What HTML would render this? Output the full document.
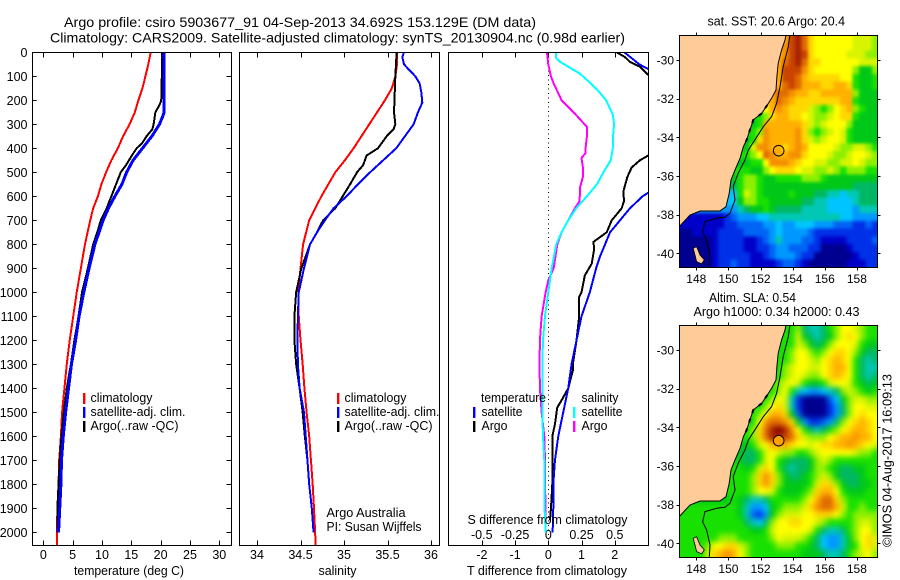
<!DOCTYPE html>
<html lang="en">
<head>
<meta charset="utf-8">
<title>Argo profile csiro 5903677_91</title>
<style>
html,body{margin:0;padding:0;background:#fff}
svg{display:block}
text{font-family:"Liberation Sans",sans-serif;fill:#000;font-size:13px}
.tick{font-size:12.5px}
.mtick{font-size:12px}
</style>
</head>
<body>
<svg id="chart" xmlns="http://www.w3.org/2000/svg" width="900" height="580" viewBox="0 0 900 580">
<defs>
<clipPath id="clip-temp"><rect x="33" y="53" width="198" height="492"/></clipPath>
<clipPath id="clip-sal"><rect x="240" y="53" width="199" height="492"/></clipPath>
<clipPath id="clip-diff"><rect x="449" y="53" width="199" height="492"/></clipPath>
<clipPath id="clip-sst"><rect x="679.5" y="35.5" width="198" height="232"/></clipPath>
<clipPath id="clip-sla"><rect x="679.5" y="325.5" width="198" height="232"/></clipPath>
<filter id="blur-sst" x="-10%" y="-10%" width="120%" height="120%" color-interpolation-filters="sRGB"><feGaussianBlur stdDeviation="1.7"/></filter>
<filter id="blur-sla" x="-10%" y="-10%" width="120%" height="120%" color-interpolation-filters="sRGB"><feGaussianBlur stdDeviation="3"/></filter>
</defs>

<text x="64" y="27" font-size="14" style="font-size:14px" textLength="472" lengthAdjust="spacingAndGlyphs">Argo profile: csiro 5903677_91 04-Sep-2013 34.692S 153.129E (DM data)</text>
<text x="50" y="42.5" style="font-size:14px" textLength="575" lengthAdjust="spacingAndGlyphs">Climatology: CARS2009. Satellite-adjusted climatology: synTS_20130904.nc (0.98d earlier)</text>

<g id="layer-maps"></g>
<g id="layer-profiles"></g>

<text x="74" y="575" textLength="110" lengthAdjust="spacingAndGlyphs">temperature (deg C)</text>
<text x="318.5" y="575" textLength="38" lengthAdjust="spacingAndGlyphs">salinity</text>
<text x="467" y="575" textLength="160" lengthAdjust="spacingAndGlyphs">T difference from climatology</text>
<text x="467.5" y="524" textLength="160" lengthAdjust="spacingAndGlyphs">S difference from climatology</text>

<g>
<rect x="83" y="393" width="2.4" height="11" fill="#ff0000"/>
<rect x="83" y="407" width="2.4" height="11" fill="#0000ff"/>
<rect x="83" y="421" width="2.4" height="11" fill="#000"/>
<text x="90.5" y="402" textLength="62" lengthAdjust="spacingAndGlyphs">climatology</text>
<text x="90.5" y="416" textLength="95" lengthAdjust="spacingAndGlyphs">satellite-adj. clim.</text>
<text x="90.5" y="430" textLength="88" lengthAdjust="spacingAndGlyphs">Argo(..raw -QC)</text>
</g>
<g>
<rect x="337" y="393" width="2.4" height="11" fill="#ff0000"/>
<rect x="337" y="407" width="2.4" height="11" fill="#0000ff"/>
<rect x="337" y="421" width="2.4" height="11" fill="#000"/>
<text x="344.5" y="402" textLength="62" lengthAdjust="spacingAndGlyphs">climatology</text>
<text x="344.5" y="416" textLength="95" lengthAdjust="spacingAndGlyphs">satellite-adj. clim.</text>
<text x="344.5" y="430" textLength="88" lengthAdjust="spacingAndGlyphs">Argo(..raw -QC)</text>
</g>
<g>
<text x="481" y="402" textLength="65" lengthAdjust="spacingAndGlyphs">temperature</text>
<rect x="473" y="407" width="2.4" height="11" fill="#0000ff"/>
<rect x="473" y="421" width="2.4" height="11" fill="#000"/>
<text x="481.5" y="416" textLength="41" lengthAdjust="spacingAndGlyphs">satellite</text>
<text x="481.5" y="430" textLength="26" lengthAdjust="spacingAndGlyphs">Argo</text>
<text x="581.5" y="402" textLength="37" lengthAdjust="spacingAndGlyphs">salinity</text>
<rect x="573" y="407" width="2.4" height="11" fill="#00ffff"/>
<rect x="573" y="421" width="2.4" height="11" fill="#ff00ff"/>
<text x="581.5" y="416" textLength="41" lengthAdjust="spacingAndGlyphs">satellite</text>
<text x="581.5" y="430" textLength="26" lengthAdjust="spacingAndGlyphs">Argo</text>
</g>

<text x="326.5" y="517" textLength="79" lengthAdjust="spacingAndGlyphs">Argo Australia</text>
<text x="326.5" y="531" textLength="95" lengthAdjust="spacingAndGlyphs">PI: Susan Wijffels</text>

<text x="707.5" y="25.5" textLength="137.5" lengthAdjust="spacingAndGlyphs">sat. SST: 20.6 Argo: 20.4</text>
<text x="709" y="302" textLength="87" lengthAdjust="spacingAndGlyphs">Altim. SLA: 0.54</text>
<text x="693.5" y="316" textLength="166" lengthAdjust="spacingAndGlyphs">Argo h1000: 0.34 h2000: 0.43</text>
<text transform="translate(891.5,547) rotate(-90)" x="0" y="0" textLength="173" lengthAdjust="spacingAndGlyphs">©IMOS 04-Aug-2017 16:09:13</text>
</svg>

<script>
// ---------- chart data ----------
const depthTicks = [0,100,200,300,400,500,600,700,800,900,1000,1100,1200,1300,1400,1500,1600,1700,1800,1900,2000];
const tempTicks = [0,5,10,15,20,25,30];
const salTicks = [34,34.5,35,35.5,36];
const salTickLabels = ["34","34.5","35","35.5","36"];
const diffTTicks = [-2,-1,0,1,2];
const diffSTicks = [-0.5,-0.25,0,0.25,0.5];
const diffSTickLabels = ["-0.5","-0.25","0","0.25","0.5"];
const lonTicks = [148,150,152,154,156,158];
const latTicks = [-30,-32,-34,-36,-38,-40];

const tempClimDepth = [0,50,100,150,200,250,300,350,400,450,500,550,600,650,700,800,900,1000,1100,1200,1300,1400,1500,1600,1700,1800,1900,2055];
const tempClim = [18.3,17.9,17.4,16.9,16.2,15.6,14.7,13.6,12.7,11.6,10.7,9.9,9.3,8.5,8.0,7.1,6.4,5.7,5.1,4.5,4.0,3.6,3.2,3.0,2.7,2.6,2.4,2.3];
const tempSatDepth = [0,250,270,300,350,400,450,500,550,600,650,700,800,900,1000,1100,1200,1300,1400,1500,1600,1700,1800,2000];
const tempSat = [20.6,20.6,20.3,19.8,18.5,16.9,15.3,14.2,13.4,12.2,11.1,10.2,8.8,7.8,6.9,6.1,5.5,4.8,4.3,3.8,3.4,3.1,3.0,2.6];
const tempArgoDepth = [0,100,200,220,250,300,320,350,380,400,430,470,500,550,600,650,700,750,800,900,1000,1100,1200,1300,1400,1500,1600,1700,1800,1900,2000];
const tempArgo = [20.3,20.2,20.1,19.8,19.1,18.8,18.6,17.6,16.8,15.9,15.1,14.1,13.2,12.4,11.6,10.8,9.8,9.2,8.5,7.6,6.6,6.0,5.3,4.7,4.0,3.5,3.1,2.8,2.6,2.4,2.4];

const salClimDepth = [0,50,100,150,200,250,300,350,400,450,500,550,600,650,700,800,900,1000,1100,1200,1300,1400,1500,1600,1700,1800,1900,2055];
const salClim = [35.61,35.61,35.59,35.55,35.47,35.38,35.29,35.20,35.11,35.01,34.90,34.82,34.74,34.67,34.60,34.53,34.50,34.475,34.48,34.50,34.525,34.545,34.57,34.60,34.62,34.64,34.655,34.675];
const salSatDepth = [0,20,50,70,100,130,170,210,250,300,350,400,450,500,550,600,650,700,750,800,900,1000,1100,1200,1300,1400,1500,1600,1700,1800,1900,2000];
const salSat = [35.69,35.67,35.69,35.74,35.82,35.87,35.89,35.90,35.85,35.80,35.70,35.60,35.45,35.30,35.16,35.03,34.88,34.78,34.69,34.61,34.54,34.48,34.47,34.465,34.47,34.49,34.54,34.56,34.58,34.60,34.63,34.65];
const salArgoDepth = [0,100,200,250,300,320,350,400,430,470,500,550,600,650,700,750,800,900,1000,1100,1200,1300,1400,1500,1600,1700,1800,1900];
const salArgo = [35.605,35.59,35.58,35.575,35.59,35.57,35.49,35.39,35.26,35.22,35.15,35.07,34.985,34.90,34.76,34.69,34.61,34.51,34.45,34.43,34.43,34.45,34.49,34.525,34.55,34.58,34.60,34.63];

const diffSArgoDepth = [0,50,100,130,170,200,250,280,310,350,400,420,440,480,520,560,620,650,700,750,800,900,950,1000,1100,1200,1300,1400,1500,1600,1700,1800,1900,2000];
const diffSArgo = [-0.01,0,0.02,0.04,0.075,0.10,0.19,0.24,0.29,0.29,0.28,0.28,0.25,0.26,0.26,0.24,0.235,0.20,0.15,0.10,0.068,0.04,0,-0.02,-0.05,-0.063,-0.066,-0.063,-0.05,-0.03,-0.025,-0.025,-0.02,-0.02];
const diffSSatDepth = [0,25,40,60,90,120,160,200,260,300,350,400,450,490,550,600,650,700,750,800,900,1000,1100,1200,1300,1400,1500,1600,1700,1800,1900,2000];
const diffSSat = [0.058,0.06,0.09,0.15,0.24,0.30,0.375,0.435,0.485,0.495,0.487,0.485,0.47,0.425,0.365,0.29,0.21,0.15,0.10,0.06,0.025,0,-0.025,-0.04,-0.045,-0.045,-0.045,-0.04,-0.03,-0.03,-0.028,-0.02];
// null breaks the line where the value leaves the axis range
const diffTSatDepth = [0,30,50,70,300,585,600,650,700,750,800,850,900,1000,1100,1200,1300,1400,1500,1600,1700,1800,1900,2000];
const diffTSat = [2.29,2.56,2.74,3.01,null,3.01,2.84,2.46,2.16,1.86,1.71,1.56,1.44,1.25,1.0,0.85,0.70,0.60,0.45,0.30,0.20,0.15,0.15,0.13];
const diffTArgoDepth = [0,20,40,60,95,300,430,450,480,520,580,620,650,700,750,790,820,880,930,1000,1020,1100,1200,1290,1320,1400,1450,1480,1550,1600,1700,1800,1900,1950];
const diffTArgo = [2.06,2.31,2.46,2.76,3.01,null,3.01,2.76,2.51,2.38,2.26,2.28,2.21,1.91,1.76,1.36,1.38,1.31,1.10,1.0,0.93,0.93,0.85,0.75,0.75,0.60,0.40,0.27,0.20,0.12,0.12,0.12,0.08,0.05];

// ---------- map data: one letter per 0.4 degree cell, "." is land ----------
const sstRows = [
"................orsqnmmmmmmlllk",
"................prsqnmmmmmmlllk",
"...............oprsrnmmmmmlllkk",
"...............oqrsqnnmmmmmmlll",
"...............orrrpnmmmmmmkiik",
"...............orrqonnnnnmmjiij",
"...............oqrqooonnoonjiij",
"..............oqqpoonnoooookiii",
"..............oqponnnnnnnoojiii",
".............moponnnlkjkmnokjii",
"............jknoonnmlkklmnnjiii",
"...........ijoooooonlklmmmkiiii",
"...........jkpoooopnkjklmljiiii",
"..........ijnpoooopnlklmmljiiii",
"..........ilppoonopommmmlkkllkj",
".........jjkmqpooppnmmmlkklmmlk",
".........iijjmppponmmllkkllmlkk",
".........jjiikmnnnmllkklkjkkkjj",
"........ijkkjiijjjjkkkjiiiiiiii",
"........hjkkjiiiiiiiiiiiiiihhhh",
"........fjlkjiiiijiiihhggfgghhh",
"........fikkjjiiiiihhggffffghhh",
".......eeghiijihhhhggggffffeggg",
"..bbbbbcdeeeffgggggggggggffeeee",
"bbbbbbbccddddeefeefffeeedddccdc",
"aabbbbccccddddefeeeedcccccccccc",
"aaaaabccccbbcdegeeeddcbbbbccccd",
"aaaaabccccbbccdeedddccaaaabcccc",
"aaaaabcccccbbcdeeedccaaaaaabccc",
"aaaaabccdccbbbbcddcbaaaaaabbbcc"
];
const slaRows = [
"................jjkhgghjkmmlkjj",
"................jjlihghikmnmkjj",
"...............jjjlkihikmmmljii",
"...............jjkmmkjkmnnmkihh",
"...............jjkmmlkmnonmjhgh",
"...............jklmmllmnoomjhgg",
"...............jklmlkkmnonmjhgh",
"..............jklmljiijlmmljihi",
".............jjkmjgfeefghklkjij",
"............jjkmlgcaaaadfikllkk",
"...........jjkmnlgcaaaacehkmmll",
"...........jkmoonidaaaacehkmnmm",
"..........ijmpqqpnieccdehkmnonm",
"..........jknqstspmjhghjkmnoonm",
".........jjknqssrqnlkkkmnoopoom",
".........iijlmooonmmlmnnooponml",
".........ihhjlmlkkjjklmmmmmlkkj",
"........jihhjlmjihhhiklkjjjjjjj",
"........jjijlnmjhghhikkjihhiijj",
"........jjjknpnkihhijklkihhhijj",
"........jjjknpnkiiiijlnnkihhiij",
".......jjjjkmmljiiijknoomjiiijj",
".......ijihgghjjjjjkmoqqnkjjjjj",
"..jjjjjjjigeefijkkklnpqqoljjkjj",
".jjjjjjjjigdceiklllmmnnnmkjkkkk",
"jjjjjjjjjjhgfhkmmnnmmlkjjjjkllk",
"jjjjjjjjjjjiijlmmmmmljhgghjkmmk",
"jjjjjjkkkjjjjjkmlllkjhfeegikmnl",
"jjjjkmmnnlkjjjjkkkjjihfeegijmnl",
"jjjjlnopomkjjjjjjjjiiihgghjklmk"
];
const paletteKeys = "abcdefghijklmnopqrst";
const paletteColors = ["#000090","#0000c8","#0030e8","#0064f4","#0098ff","#00c4ff","#00c8b4","#00b864","#00c818","#18e000","#8cf000","#d8f400","#ffff00","#ffd800","#ffb000","#f49000","#e06c00","#c84400","#a82400","#800000"];

const coastLon = [153.58,153.52,153.31,153.10,153.02,152.96,152.69,152.42,152.07,151.55,151.34,151.13,150.93,150.72,150.41,150.16,150.05,149.85,149.47,148.23,147.61,146.94];
const coastLat = [-28.72,-28.97,-29.48,-30.17,-30.86,-31.55,-31.98,-32.33,-32.76,-33.10,-33.62,-34.14,-34.48,-35.09,-35.69,-36.21,-36.90,-37.59,-37.81,-37.81,-38.02,-38.62];
const isobathLon = [153.83,153.73,153.41,153.21,153.00,152.69,152.17,151.71,151.24,151.03,150.61,150.30,150.41,150.10,149.78,149.27,148.54,148.39,148.64,148.85,148.81];
const isobathLat = [-28.72,-29.31,-30.34,-31.38,-32.24,-32.93,-33.45,-34.05,-34.66,-35.17,-35.86,-36.55,-37.24,-37.93,-38.14,-38.19,-38.36,-38.88,-39.31,-40.09,-40.71];
const islandLon = [147.81,148.02,148.23,148.50,148.33,148.02,147.92];
const islandLat = [-39.74,-39.66,-40.09,-40.34,-40.55,-40.43,-40.09];
const argoLon = 153.129;
const argoLat = -34.692;

// ---------- helpers ----------
const NS = "http://www.w3.org/2000/svg";
const LAND = "#ffcc99";
function mk(tag, attrs, parent){
  const e = document.createElementNS(NS, tag);
  for(const k in attrs) e.setAttribute(k, attrs[k]);
  parent.appendChild(e);
  return e;
}
function hLine(parent,x1,y1,x2,y2,sw){
  return mk("line",{x1:x1,y1:y1,x2:x2,y2:y2,stroke:"#000","stroke-width":sw||1,"shape-rendering":"crispEdges"},parent);
}
const yDepth = d => 52.3 + 0.24*d;
const xTemp = v => 43.3 + 5.867*v;
const xSal = v => 257 + 87*(v-34);
const xDiffT = v => 548.3 + 33.2*v;
const xDiffS = v => 548.3 + 133*v;
const PANEL_TOP = 52.5, PANEL_BOTTOM = 545.5;

function panelFrame(name,left,right){
  const g = mk("g",{},document.getElementById("layer-profiles"));
  
  
  const r = mk("rect",{x:left,y:PANEL_TOP,width:right-left,height:PANEL_BOTTOM-PANEL_TOP,fill:"none",stroke:"#000","stroke-width":1,"shape-rendering":"crispEdges"},g);
  
  
  return g;
}
function addLine(g,name,depths,vals,xf,color,width,clip){
  let seg = [];
  const flush = () => {
    if(seg.length > 1){
      const p = mk("polyline",{points:seg.join(" "),fill:"none",stroke:color,"stroke-width":width,"clip-path":"url(#"+clip+")","stroke-linejoin":"round","shape-rendering":"crispEdges"},g);
      
      
    }
    seg = [];
  };
  depths.forEach((d,i) => {
    if(vals[i] === null){ flush(); }
    else { seg.push(xf(vals[i]).toFixed(2)+","+yDepth(d).toFixed(2)); }
  });
  flush();
}
function addText(parent,name,str,x,y,anchor,cls){
  const t = mk("text",{x:x,y:y,"text-anchor":anchor,"class":cls},parent);
  t.textContent = str;
  
  
  return t;
}
function xTicks(g,vals,xf,labels,name){
  vals.forEach((v,i) => {
    const x = Math.round(xf(v)) + 0.5;
    hLine(g,x,PANEL_TOP,x,PANEL_TOP+5);
    hLine(g,x,PANEL_BOTTOM-5,x,PANEL_BOTTOM);
    if(labels) addText(g,name,labels[i],xf(v),559,"middle","tick");
  });
}

// ---------- profile panels ----------
const gTemp = panelFrame("temperature-panel",32.5,231.5);
xTicks(gTemp,tempTicks,xTemp,tempTicks.map(String),"temperature-tick-label");
depthTicks.forEach(d => {
  const y = Math.round(yDepth(d)) + 0.5;
  hLine(gTemp,32.5,y,36.5,y);
  hLine(gTemp,226.5,y,231.5,y);
  addText(gTemp,"depth-tick-label",String(d),27.5,y+4.5,"end","tick");
});
addLine(gTemp,"temperature-climatology-line",tempClimDepth,tempClim,xTemp,"#ff0000",2,"clip-temp");
addLine(gTemp,"temperature-argo-line",tempArgoDepth,tempArgo,xTemp,"#000",2,"clip-temp");
addLine(gTemp,"temperature-satellite-line",tempSatDepth,tempSat,xTemp,"#0000ff",3,"clip-temp");

const gSal = panelFrame("salinity-panel",239.5,439.5);
xTicks(gSal,salTicks,xSal,salTickLabels,"salinity-tick-label");
addLine(gSal,"salinity-climatology-line",salClimDepth,salClim,xSal,"#ff0000",2,"clip-sal");
addLine(gSal,"salinity-argo-line",salArgoDepth,salArgo,xSal,"#000",2,"clip-sal");
addLine(gSal,"salinity-satellite-line",salSatDepth,salSat,xSal,"#0000ff",2,"clip-sal");

const gDiff = panelFrame("difference-panel",448.5,648.5);
xTicks(gDiff,diffTTicks,xDiffT,diffTTicks.map(String),"t-difference-tick-label");
diffSTicks.forEach((v,i) => addText(gDiff,"s-difference-tick-label",diffSTickLabels[i],xDiffS(v),539,"middle","tick"));
const zeroLine = mk("line",{x1:548.5,y1:PANEL_TOP,x2:548.5,y2:PANEL_BOTTOM,stroke:"#000","stroke-width":1,"stroke-dasharray":"1 3.5"},gDiff);


addLine(gDiff,"s-difference-argo-line",diffSArgoDepth,diffSArgo,xDiffS,"#ff00ff",2,"clip-diff");
addLine(gDiff,"s-difference-satellite-line",diffSSatDepth,diffSSat,xDiffS,"#00ffff",2,"clip-diff");
addLine(gDiff,"t-difference-argo-line",diffTArgoDepth,diffTArgo,xDiffT,"#000",2,"clip-diff");
addLine(gDiff,"t-difference-satellite-line",diffTSatDepth,diffTSat,xDiffT,"#0000ff",2,"clip-diff");

// ---------- maps ----------
const xLon = lon => 696.3 + 16.06*(lon-148);
const LON0 = 146.94, LAT0 = -28.72, CELL = 0.4;
function drawMap(name,rows,top,zeroY,clip,labelY,markerFill,blurId){
  const yLat = lat => zeroY + 19.33*(-30-lat);
  const left = 679.5, right = 877.5, bottom = top + 232;
  const g = mk("g",{},document.getElementById("layer-maps"));
  
  
  const clipGroup = mk("g",{"clip-path":"url(#"+clip+")"},g);
  const field = mk("g",{filter:"url(#"+blurId+")","shape-rendering":"crispEdges"},clipGroup);
  rows.forEach((row,r) => {
    // land cells take the first sea value of the row so the smoothing does not bleed the land colour; the land polygon covers them
    const sea = row.replace(/\./g,"")[0];
    for(let c = 0; c < row.length; c++){
      const ch = row[c] === "." ? sea : row[c];
      const idx = paletteKeys.indexOf(ch);
      if(idx < 0) continue;
      // outer cells overhang the frame so the smoothing stays opaque to the clip edge
      const x1 = xLon(LON0 + CELL*c) - (c === 0 ? 14 : 0);
      const x2 = xLon(LON0 + CELL*(c+1)) + (c === row.length-1 ? 14 : 0);
      const y1 = yLat(LAT0 - CELL*r) - (r === 0 ? 14 : 0);
      const y2 = yLat(LAT0 - CELL*(r+1)) + (r === rows.length-1 ? 14 : 0);
      const cell = mk("rect",{x:x1.toFixed(2),y:y1.toFixed(2),width:(x2-x1+0.3).toFixed(2),height:(y2-y1+0.3).toFixed(2),fill:paletteColors[idx]},field);
      
      
    }
  });
  const overlay = mk("g",{"clip-path":"url(#"+clip+")"},g);
  let pts = coastLon.map((l,i) => xLon(l).toFixed(1)+","+yLat(coastLat[i]).toFixed(1));
  const land = mk("polygon",{points:pts.join(" ")+" "+left+","+top,fill:LAND,stroke:"none"},overlay);
  
  
  const coast = mk("polyline",{points:pts.join(" "),fill:"none",stroke:"#000","stroke-width":1},overlay);
  
  
  const rough = mk("polyline",{points:pts.slice(7,13).join(" "),fill:"none",stroke:"#000","stroke-width":2,"stroke-dasharray":"4 6"},overlay);
  
  
  const iso = mk("polyline",{points:isobathLon.map((l,i) => xLon(l).toFixed(1)+","+yLat(isobathLat[i]).toFixed(1)).join(" "),fill:"none",stroke:"#000","stroke-width":1},overlay);
  
  
  const isl = mk("polygon",{points:islandLon.map((l,i) => xLon(l).toFixed(1)+","+yLat(islandLat[i]).toFixed(1)).join(" "),fill:LAND,stroke:"#000","stroke-width":0.8},overlay);
  
  
  const marker = mk("circle",{cx:xLon(argoLon),cy:yLat(argoLat),r:5.3,fill:markerFill,stroke:"#000","stroke-width":1},g);
  
  
  const frame = mk("rect",{x:left,y:top,width:198,height:232,fill:"none",stroke:"#000","stroke-width":1,"shape-rendering":"crispEdges"},g);
  
  
  lonTicks.forEach(l => {
    const x = Math.round(xLon(l)) + 0.5;
    hLine(g,x,top-3,x,top);
    hLine(g,x,bottom,x,bottom+3);
    addText(g,"longitude-tick-label",String(l),xLon(l),labelY,"middle","mtick");
  });
  latTicks.forEach(l => {
    const y = Math.round(yLat(l)) + 0.5;
    hLine(g,left-3,y,left,y);
    hLine(g,right,y,right+3,y);
    addText(g,"latitude-tick-label",String(l),674,yLat(l)+4.5,"end","mtick");
  });
}
drawMap("sst-map",sstRows,35.5,60,"clip-sst",283,"none","blur-sst");
drawMap("sla-map",slaRows,325.5,350,"clip-sla",573,"#ffa000","blur-sla");
</script>
</body>
</html>
